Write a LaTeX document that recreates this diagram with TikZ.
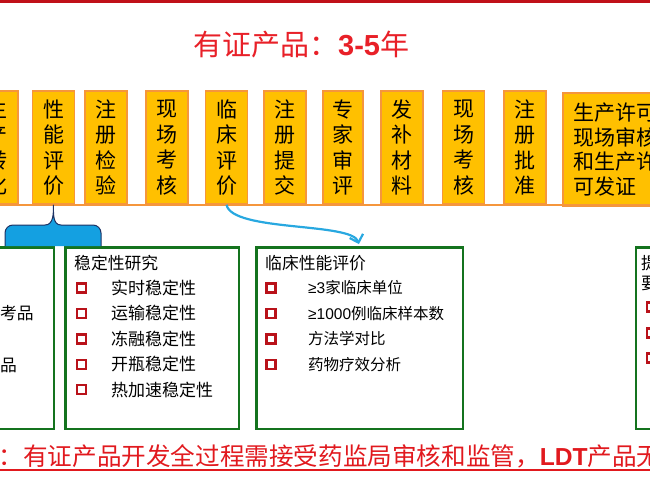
\documentclass[tikz,border=0pt]{standalone}
\usepackage{fontspec}
\setmainfont{Noto Sans CJK SC}
\newfontfamily\latinfont{Liberation Sans}
\usetikzlibrary{positioning, arrows.meta}

\definecolor{topred}{RGB}{192,16,24}
\definecolor{titlered}{RGB}{232,32,40}
\definecolor{notered}{RGB}{225,25,30}
\definecolor{boxfill}{RGB}{255,192,0}
\definecolor{boxedge}{RGB}{245,150,60}
\definecolor{framegreen}{RGB}{20,115,30}
\definecolor{tickred}{RGB}{185,18,26}
\definecolor{braceblue}{RGB}{20,160,225}
\definecolor{bracedark}{RGB}{30,50,100}
\definecolor{arrowblue}{RGB}{40,168,224}

\begin{document}
\begin{tikzpicture}[x=1pt, y=-1pt,
                    stepbox/.style={rectangle, draw=boxedge, fill=boxfill, line width=1.5pt, minimum width=42pt, minimum height=113pt, inner sep=0pt, align=center, font=\fontsize{21}{25.5}\selectfont},
                    infobox/.style={rectangle, draw=framegreen, line width=2.5pt, minimum height=181.5pt, inner sep=0pt},
                    infotitle/.style={anchor=west, inner sep=0pt, font=\fontsize{16.8}{19}\selectfont},
                    itemtext/.style={inner sep=0pt, minimum height=25pt, text width=150pt, align=left, font=\fontsize{17}{19}\selectfont},
                    smallitem/.style={itemtext, font=\fontsize{15.5}{18}\selectfont},
                    tickbox/.style={rectangle, draw=tickred, line width=2.4pt, minimum size=9pt, inner sep=0pt},
                    flowarrow/.style={->, >={Straight Barb[length=7pt, width=14pt]}, draw=arrowblue, line width=2.2pt, shorten >=2pt},]
    \useasboundingbox (0,0) rectangle (650,487);
    \clip (0,0) rectangle (650,487);
    \fill[topred] (0,0) rectangle (650,3.5);
    % title
    \node[anchor=west, inner sep=0pt, text=titlered, font=\fontsize{29}{32}\selectfont] (title) at (193,45) {有证产品：{\latinfont\bfseries 3-5}年};
    % steps
    \node[stepbox]      (prod)     at (-3,147.5)    {生\\产\\转\\化};
    \node[stepbox]      (perf)     at (53.5,147.5)  {性\\能\\评\\价};
    \node[stepbox]      (test)     at (106,147.5)   {注\\册\\检\\验};
    \node[stepbox]      (site)     at (167,147.5)   {现\\场\\考\\核};
    \node[stepbox]      (clinic)   at (226.5,147.5) {临\\床\\评\\价};
    \node[stepbox]      (submit)   at (285,147.5)   {注\\册\\提\\交};
    \node[stepbox, minimum width=40pt] (review) at (343,147.5) {专\\家\\审\\评};
    \node[stepbox]      (supply)   at (402,147.5)   {发\\补\\材\\料};
    \node[stepbox]      (recheck)  at (463.5,147.5) {现\\场\\考\\核};
    \node[stepbox]      (approve)  at (525,147.5)   {注\\册\\批\\准};
    \node[stepbox, anchor=west, align=left, text width=88pt, inner xsep=11pt, font=\fontsize{21}{24.5}\selectfont] (license) at (562,149.5) {生产许可\\现场审核\\和生产许\\可发证};
    \draw[boxedge, line width=2.5pt] (prod.south west) -- (prod.south west -| license.east);
    % boxes
    \node[infobox, minimum width=176pt]   (material)  at (-34,338)   {};
    \node[infobox, minimum width=173.5pt] (stability) at (152,338)   {};
    \node[infobox, minimum width=206.5pt] (clinical)  at (359.5,338) {};
    \node[infobox, minimum width=176pt]   (request)   at (724,338)   {};
    % material
    \node[infotitle, anchor=east] (mat1) at (34,313) {考品};
    \node[infotitle, anchor=east] (mat2) at (17,365) {品};
    % stability
    \node[infotitle] (stabtitle) at (74,263) {稳定性研究};
    \node[itemtext, anchor=west] (stab1) at (111,288) {实时稳定性};
    \node[itemtext] (stab2) [below=0pt of stab1] {运输稳定性};
    \node[itemtext] (stab3) [below=0pt of stab2] {冻融稳定性};
    \node[itemtext] (stab4) [below=0pt of stab3] {开瓶稳定性};
    \node[itemtext] (stab5) [below=0pt of stab4] {热加速稳定性};
    \node[tickbox] (stab1tick) [left=24pt of stab1] {};
    \node[tickbox] (stab2tick) [left=24pt of stab2] {};
    \node[tickbox] (stab3tick) [left=24pt of stab3] {};
    \node[tickbox] (stab4tick) [left=24pt of stab4] {};
    \node[tickbox] (stab5tick) [left=24pt of stab5] {};
    % clinical
    \node[infotitle] (clintitle) at (265,263) {临床性能评价};
    \node[smallitem, anchor=west] (clin1) at (308,288) {{\latinfont ≥3}家临床单位};
    \node[smallitem] (clin2) [below=0pt of clin1] {{\latinfont ≥1000}例临床样本数};
    \node[smallitem] (clin3) [below=0pt of clin2] {方法学对比};
    \node[smallitem] (clin4) [below=0pt of clin3] {药物疗效分析};
    \node[tickbox] (clin1tick) [left=31.5pt of clin1] {};
    \node[tickbox] (clin2tick) [left=31.5pt of clin2] {};
    \node[tickbox] (clin3tick) [left=31.5pt of clin3] {};
    \node[tickbox] (clin4tick) [left=31.5pt of clin4] {};
    % request
    \node[infotitle] (reqtitle)  at (641,263) {提};
    \node[infotitle] (reqtitleb) at (641,283) {要};
    \node[tickbox] (req1) at (651.5,307) {};
    \node[tickbox] (req2) [below=14.5pt of req1] {};
    \node[tickbox] (req3) [below=13.5pt of req2] {};
    % brace
    \fill[braceblue] (5,246) -- (5,233) to[out=90,in=180] (13,225) -- (45,225) to[out=0,in=-90] (perf.south) to[out=-90,in=180] (61,225) -- (93,225) to[out=0,in=90] (101,233) -- (101,246) -- cycle;
    \draw[bracedark, line width=1pt] (5,246) -- (5,233) to[out=90,in=180] (13,225) -- (45,225) to[out=0,in=-90] (perf.south) to[out=-90,in=180] (61,225) -- (93,225) to[out=0,in=90] (101,233) -- (101,246);
    % lines
    \draw[flowarrow] (clinic.south) .. controls (232,232) and (352,222) .. (clinical.north);
    % note
    \node[anchor=west, inner sep=0pt, text=notered, font=\fontsize{24.6}{28}\selectfont] (note) at (-26.2,456) {注：有证产品开发全过程需接受药监局审核和监管，{\latinfont\bfseries LDT}产品无};
    \draw[notered, line width=2.5pt] (0,470) -- (650,470);
\end{tikzpicture}
\end{document}
